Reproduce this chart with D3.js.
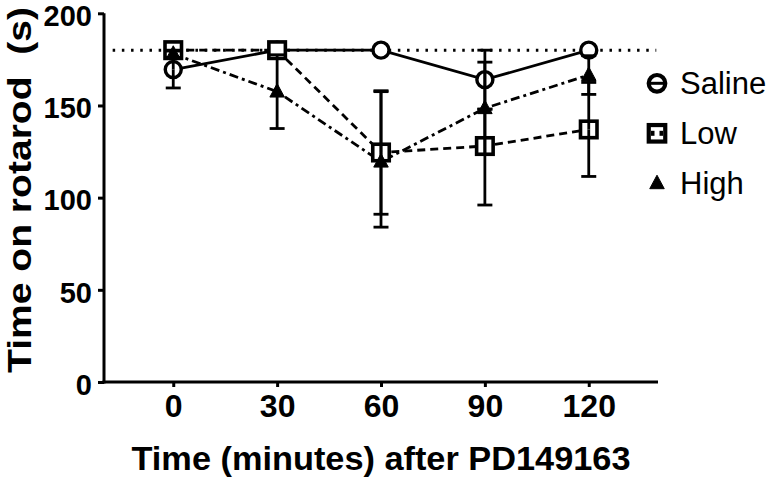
<!DOCTYPE html>
<html><head><meta charset="utf-8">
<script src="https://cdn.jsdelivr.net/npm/d3@7"></script>
<style>body{margin:0;background:#fff}svg{display:block}</style>
</head><body>
<script>
const times = [0, 30, 60, 90, 120];
const xTicks = [0, 30, 60, 90, 120];
const yTicks = [0, 50, 100, 150, 200];
const seriesNames = ["Saline", "Low", "High"];
const salineVals = [169.5, 180, 180, 164, 180];
const salineErrUp = [10, 0, 0, 16, 0];
const salineErrDown = [10, 0, 0, 16, 0];
const lowVals = [180, 180, 124.5, 128, 137];
const lowErrUp = [0, 0, 33.5, 20, 25.5];
const lowErrDown = [0, 0, 33.5, 32, 25.5];
const highVals = [178, 157.5, 119.5, 148.5, 166.5];
const highErrUp = [2, 20, 38, 25, 10.5];
const highErrDown = [2, 20, 35.5, 25, 10.5];
const refValue = 180;

const W = 771, H = 487;
const svg = d3.select("body").append("svg").attr("width", W).attr("height", H);
const x = d3.scaleLinear().domain([-20, 140]).range([104, 658]);
const y = d3.scaleLinear().domain([0, 200]).range([382, 13.3]);

const series = [
  {name: seriesNames[0], vals: salineVals, up: salineErrUp, down: salineErrDown, dash: null, marker: "circle"},
  {name: seriesNames[1], vals: lowVals, up: lowErrUp, down: lowErrDown, dash: "8,5", marker: "square"},
  {name: seriesNames[2], vals: highVals, up: highErrUp, down: highErrDown, dash: "9,4,3,4", marker: "triangle"}
];

// reference dotted line
svg.append("line")
  .attr("x1", x(-17.5)).attr("x2", x(139.5))
  .attr("y1", y(refValue)).attr("y2", y(refValue))
  .attr("stroke", "#000").attr("stroke-width", 3)
  .attr("stroke-dasharray", "2.5,6.7");

// axes
const yAxis = svg.append("g").attr("transform", `translate(${x(-20)},0)`)
  .call(d3.axisLeft(y).tickValues(yTicks).tickSize(6).tickSizeOuter(0).tickPadding(6));
const xAxis = svg.append("g").attr("transform", `translate(0,${y(0)})`)
  .call(d3.axisBottom(x).tickValues(xTicks).tickSize(5).tickSizeOuter(0).tickPadding(8));
[yAxis, xAxis].forEach(g => {
  g.select(".domain").attr("stroke-width", 3).attr("stroke", "#000");
  g.selectAll(".tick line").attr("stroke-width", 3).attr("stroke", "#000");
  g.selectAll(".tick text").attr("fill", "#000").attr("font-family", "Liberation Sans, Arial, sans-serif").attr("font-weight", "bold");
});
yAxis.selectAll(".tick text").attr("font-size", 29).attr("dy", "0.42em");
xAxis.selectAll(".tick text").attr("font-size", 32).attr("dy", "0.7em");
yAxis.select(".domain").attr("d", `M0,${y(200)}V${y(0) + 1.5}`);
xAxis.select(".domain").attr("d", `M${x(-20) - 1.5},0H${x(140)}`);

// titles
svg.append("text")
  .attr("x", x(60)).attr("y", 470)
  .attr("text-anchor", "middle")
  .attr("font-family", "Liberation Sans, Arial, sans-serif").attr("font-weight", "bold")
  .attr("font-size", 33).attr("textLength", 499).attr("lengthAdjust", "spacingAndGlyphs")
  .text("Time (minutes) after PD149163");
svg.append("text")
  .attr("transform", "translate(31,190) rotate(-90)")
  .attr("text-anchor", "middle")
  .attr("font-family", "Liberation Sans, Arial, sans-serif").attr("font-weight", "bold")
  .attr("font-size", 33).attr("textLength", 366).attr("lengthAdjust", "spacingAndGlyphs")
  .style("white-space", "pre")
  .text("Time on rotarod  (s)");

// lines
const lineGen = d3.line().x((d, i) => x(times[i])).y(d => y(d));
series.forEach(s => {
  svg.append("path").datum(s.vals)
    .attr("d", lineGen)
    .attr("fill", "none").attr("stroke", "#000").attr("stroke-width", 2.8)
    .attr("stroke-dasharray", s.dash);
});

// markers
function drawMarker(g, type, cx, cy, legend) {
  if (type === "circle") {
    g.append("circle").attr("cx", cx).attr("cy", cy).attr("r", legend ? 8.3 : 8)
      .attr("fill", "#fff").attr("stroke", "#000").attr("stroke-width", legend ? 4.2 : 3.4);
    if (legend) g.append("line").attr("x1", cx - 8).attr("x2", cx + 8).attr("y1", cy).attr("y2", cy)
      .attr("stroke", "#000").attr("stroke-width", 3);
  } else if (type === "square") {
    const s = 16.5;
    g.append("rect").attr("x", cx - s / 2).attr("y", cy - s / 2).attr("width", s).attr("height", s)
      .attr("fill", "#fff").attr("stroke", "#000").attr("stroke-width", legend ? 4.2 : 3.6);
    if (legend) {
      g.append("rect").attr("x", cx - 6).attr("y", cy - 2.5).attr("width", 3.5).attr("height", 5).attr("fill", "#000");
      g.append("rect").attr("x", cx + 2.5).attr("y", cy - 2.5).attr("width", 3.5).attr("height", 5).attr("fill", "#000");
    }
  } else {
    const w = 14.5, h = 13.5;
    g.append("path")
      .attr("d", `M${cx},${cy - h * 0.6}L${cx + w / 2},${cy + h * 0.4}L${cx - w / 2},${cy + h * 0.4}Z`)
      .attr("fill", "#000").attr("stroke", "#000").attr("stroke-width", 1);
  }
}
series.forEach(s => {
  const g = svg.append("g");
  s.vals.forEach((v, i) => drawMarker(g, s.marker, x(times[i]), y(v), false));
});

// error bars
series.forEach(s => {
  const g = svg.append("g").attr("stroke", "#000").attr("stroke-width", 2.8);
  s.vals.forEach((v, i) => {
    const cx = x(times[i]);
    if (s.up[i] > 0) {
      g.append("line").attr("x1", cx).attr("x2", cx).attr("y1", y(v)).attr("y2", y(v + s.up[i]));
      g.append("line").attr("x1", cx - 7.5).attr("x2", cx + 7.5).attr("y1", y(v + s.up[i])).attr("y2", y(v + s.up[i]));
    }
    if (s.down[i] > 0) {
      g.append("line").attr("x1", cx).attr("x2", cx).attr("y1", y(v)).attr("y2", y(v - s.down[i]));
      g.append("line").attr("x1", cx - 7.5).attr("x2", cx + 7.5).attr("y1", y(v - s.down[i])).attr("y2", y(v - s.down[i]));
    }
  });
});

// legend
const legendY = [83.3, 133.3, 183.3];
series.forEach((s, i) => {
  const g = svg.append("g");
  drawMarker(g, s.marker, 657, legendY[i], true);
  g.append("text").attr("x", 680).attr("y", legendY[i] + 10.8)
    .attr("font-family", "Liberation Sans, Arial, sans-serif").attr("font-size", 31)
    .attr("fill", "#000").text(s.name);
});
</script>
</body></html>
